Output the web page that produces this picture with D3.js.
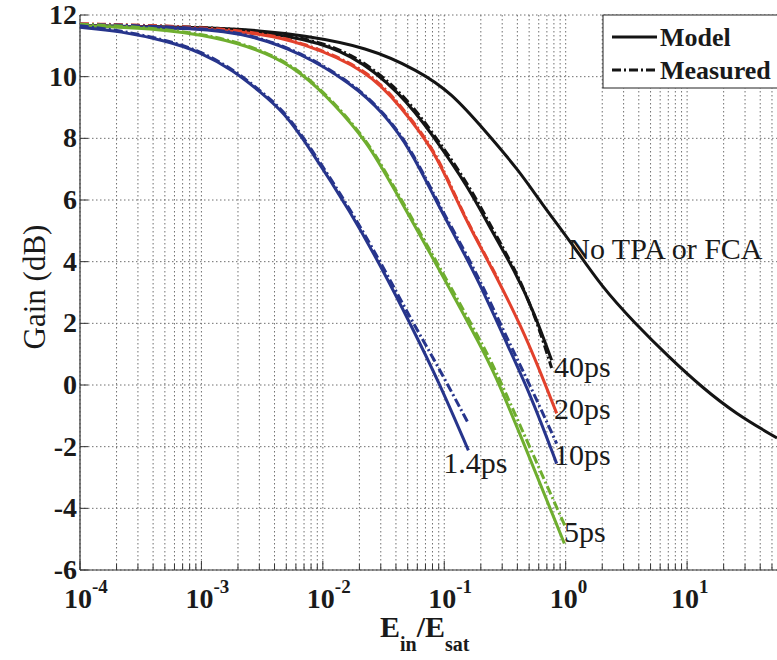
<!DOCTYPE html>
<html>
<head>
<meta charset="utf-8">
<script src="https://cdn.jsdelivr.net/npm/d3@7"></script>
<style>
  html, body { margin: 0; padding: 0; background: #fff; }
  svg { display: block; font-family: "Liberation Serif", "Times New Roman", serif; }
</style>
</head>
<body>
<svg id="chart" width="777" height="660"></svg>
<script>
/* ───────────────────────────── DATA ───────────────────────────── */
// each point: [Ein/Esat, gain dB]
const noTpaModel = [
  [1e-4, 11.65], [1e-3, 11.6], [3e-3, 11.5], [6.6e-3, 11.35], [0.0234, 10.96],
  [0.061, 10.2], [0.115, 9.47], [0.214, 8.27], [0.41, 6.97], [0.63, 5.9],
  [1.12, 4.6], [1.99, 3.17], [3.72, 2.0], [7.1, 0.9], [13.3, -0.08],
  [24.9, -0.92], [55, -1.72]
];
const ps40Model = [
  [1e-4, 11.65], [1e-3, 11.6], [3e-3, 11.45], [6.6e-3, 11.25], [0.017, 10.77],
  [0.044, 9.47], [0.0826, 8.04], [0.158, 6.42], [0.244, 5.02], [0.379, 3.72],
  [0.555, 2.32], [0.766, 0.8]
];
const ps40Meas = [
  [1e-4, 11.7], [1e-3, 11.62], [3e-3, 11.48], [6.6e-3, 11.28], [0.017, 10.82],
  [0.044, 9.55], [0.0826, 8.12], [0.158, 6.52], [0.244, 5.12], [0.379, 3.8],
  [0.555, 2.3], [0.766, 0.55]
];
const ps20Model = [
  [1e-4, 11.65], [1e-3, 11.58], [3e-3, 11.4], [6.6e-3, 11.12], [0.0235, 10.21],
  [0.0442, 9.01], [0.0826, 7.62], [0.126, 6.0], [0.167, 5.02], [0.279, 3.4],
  [0.4325, 1.87], [0.598, 0.57], [0.843, -0.92]
];
const ps20Meas = [
  [1e-4, 11.72], [1e-3, 11.62], [3e-3, 11.42], [6.6e-3, 11.14], [0.0235, 10.24],
  [0.0442, 9.05], [0.0826, 7.66], [0.126, 6.05], [0.167, 5.05], [0.279, 3.42]
];
const ps10Model = [
  [1e-4, 11.65], [1e-3, 11.58], [2.54e-3, 11.35], [6.6e-3, 10.77], [0.017, 9.79],
  [0.0319, 8.82], [0.0533, 7.6], [0.0826, 6.09], [0.121, 4.86], [0.191, 3.4],
  [0.338, 1.22], [0.524, -0.4], [0.843, -2.55]
];
const ps10Meas = [
  [1e-4, 11.7], [1e-3, 11.6], [2.54e-3, 11.37], [6.6e-3, 10.8], [0.017, 9.82],
  [0.0319, 8.85], [0.0533, 7.65], [0.0826, 6.15], [0.121, 4.95], [0.191, 3.52],
  [0.338, 1.42], [0.524, -0.12], [0.843, -1.9]
];
const ps5Model = [
  [1e-4, 11.65], [3.79e-4, 11.58], [1.355e-3, 11.29], [3.51e-3, 10.77], [6.58e-3, 10.15],
  [0.01233, 9.14], [0.02355, 7.84], [0.0353, 6.64], [0.1019, 3.4], [0.2023, 1.22],
  [0.259, 0.38], [0.409, -1.47], [0.975, -5.14]
];
const ps5Meas = [
  [1e-4, 11.7], [3.79e-4, 11.6], [1.355e-3, 11.32], [3.51e-3, 10.8], [6.58e-3, 10.18],
  [0.01233, 9.18], [0.02355, 7.88], [0.0353, 6.7], [0.1019, 3.5], [0.2023, 1.38],
  [0.259, 0.56], [0.409, -1.2], [1.0, -4.62]
];
const ps14Model = [
  [1e-4, 11.6], [2.14e-4, 11.48], [5.24e-4, 11.15], [9.82e-4, 10.8], [1.837e-3, 10.2],
  [3.07e-3, 9.5], [4.77e-3, 8.85], [7.51e-3, 7.78], [0.017, 5.6], [0.0319, 3.66],
  [0.0533, 1.93], [0.0891, 0.15], [0.158, -2.12]
];
const ps14Meas = [
  [1e-4, 11.65], [2.14e-4, 11.5], [5.24e-4, 11.18], [9.82e-4, 10.83], [1.837e-3, 10.23],
  [3.07e-3, 9.54], [4.77e-3, 8.9], [7.51e-3, 7.84], [0.017, 5.68], [0.0319, 3.78],
  [0.0533, 2.12], [0.0891, 0.6], [0.158, -1.25]
];

const series = [
  { data: noTpaModel, color: "#141414", dash: null },
  { data: ps40Meas,   color: "#141414", dash: "9,3,2,3" },
  { data: ps40Model,  color: "#141414", dash: null },
  { data: ps20Meas,   color: "#e2412c", dash: "9,3,2,3" },
  { data: ps20Model,  color: "#e2412c", dash: null },
  { data: ps10Meas,   color: "#27358c", dash: "9,3,2,3" },
  { data: ps10Model,  color: "#27358c", dash: null },
  { data: ps5Meas,    color: "#6fae2f", dash: "9,3,2,3" },
  { data: ps5Model,   color: "#6fae2f", dash: null },
  { data: ps14Meas,   color: "#27358c", dash: "9,3,2,3" },
  { data: ps14Model,  color: "#27358c", dash: null }
];

// curve end labels: [text, Ein/Esat, gain]
const curveLabels = [
  ["No TPA or FCA", 1.05, 4.1],
  ["40ps", 0.8, 0.25],
  ["20ps", 0.8, -1.1],
  ["10ps", 0.8, -2.6],
  ["1.4ps", 0.098, -2.85],
  ["5ps", 0.97, -5.1]
];

const yTicks = [-6, -4, -2, 0, 2, 4, 6, 8, 10, 12];
const xDecades = [-4, -3, -2, -1, 0, 1];
const legendItems = [["Model", null], ["Measured", "9,3,2,3"]];

/* ───────────────────────────── SCALES ───────────────────────────── */
const svg = d3.select("#chart");
const plot = { left: 80, right: 777, top: 15, bottom: 570 };

const x = d3.scaleLog().domain([1e-4, 55]).range([plot.left, plot.right]);
const y = d3.scaleLinear().domain([-6, 12]).range([plot.bottom, plot.top]);

// all log ticks (1..9 per decade)
const minorTicks = [];
xDecades.forEach(e => {
  for (let m = 1; m <= 9; m++) {
    const v = m * Math.pow(10, e);
    if (v <= 55) minorTicks.push(v);
  }
});

/* ───────────────────────────── GRID ───────────────────────────── */
const grid = svg.append("g");
grid.selectAll("line.vg").data(minorTicks).join("line")
  .attr("x1", d => x(d)).attr("x2", d => x(d))
  .attr("y1", plot.top).attr("y2", plot.bottom)
  .attr("stroke", "#707070").attr("stroke-width", 1)
  .attr("stroke-dasharray", "1.5,2.5");
grid.selectAll("line.hg").data(yTicks).join("line")
  .attr("x1", plot.left).attr("x2", plot.right)
  .attr("y1", d => y(d)).attr("y2", d => y(d))
  .attr("stroke", "#707070").attr("stroke-width", 1)
  .attr("stroke-dasharray", "1.5,2.5");

/* ───────────────────────────── AXES ───────────────────────────── */
const axes = svg.append("g");
axes.append("line").attr("x1", plot.left).attr("x2", plot.left)
  .attr("y1", plot.top).attr("y2", plot.bottom)
  .attr("stroke", "#333").attr("stroke-width", 1.2);
axes.append("line").attr("x1", plot.left).attr("x2", plot.right)
  .attr("y1", plot.bottom).attr("y2", plot.bottom)
  .attr("stroke", "#333").attr("stroke-width", 1.2);

// inward ticks
axes.selectAll("line.xt").data(minorTicks).join("line")
  .attr("x1", d => x(d)).attr("x2", d => x(d))
  .attr("y1", plot.bottom).attr("y2", (d, i) => plot.bottom - (i % 9 === 0 ? 9 : 6))
  .attr("stroke", "#333").attr("stroke-width", 1);
axes.selectAll("line.yt").data(yTicks).join("line")
  .attr("x1", plot.left).attr("x2", plot.left + 8)
  .attr("y1", d => y(d)).attr("y2", d => y(d))
  .attr("stroke", "#333").attr("stroke-width", 1);

// y tick labels
axes.selectAll("text.yl").data(yTicks).join("text")
  .attr("x", plot.left - 3).attr("y", d => y(d) + 9)
  .attr("text-anchor", "end")
  .attr("font-size", 28).attr("font-weight", "bold").attr("fill", "#1a1a1a")
  .text(d => d);

// x tick labels 10^n
const xl = axes.selectAll("text.xl").data(xDecades).join("text")
  .attr("x", d => x(Math.pow(10, d)) - 16).attr("y", 608)
  .attr("font-size", 28).attr("font-weight", "bold").attr("fill", "#1a1a1a");
xl.append("tspan").text("10");
xl.append("tspan").attr("dy", -15).attr("font-size", 19).text(d => d);

// axis titles
const xt = axes.append("text").attr("x", 380).attr("y", 637)
  .attr("font-size", 30).attr("font-weight", "bold").attr("fill", "#1a1a1a");
xt.append("tspan").text("E");
xt.append("tspan").attr("dy", 14).attr("font-size", 20).text("in");
xt.append("tspan").attr("dy", -14).text("/E");
xt.append("tspan").attr("dy", 14).attr("font-size", 20).text("sat");

axes.append("text")
  .attr("transform", "translate(45,287) rotate(-90)")
  .attr("text-anchor", "middle")
  .attr("font-size", 31).attr("fill", "#1a1a1a")
  .text("Gain (dB)");

/* ───────────────────────────── CURVES ───────────────────────────── */
const line = d3.line()
  .x(d => x(d[0]))
  .y(d => y(d[1]))
  .curve(d3.curveBasis);

svg.append("g").selectAll("path").data(series).join("path")
  .attr("d", d => line(d.data))
  .attr("fill", "none")
  .attr("stroke", d => d.color)
  .attr("stroke-width", 3)
  .attr("stroke-dasharray", d => d.dash);

/* ───────────────────────────── LABELS ───────────────────────────── */
svg.append("g").selectAll("text").data(curveLabels).join("text")
  .attr("x", d => x(d[1])).attr("y", d => y(d[2]))
  .attr("font-size", 30).attr("fill", "#1a1a1a")
  .text(d => d[0]);

/* ───────────────────────────── LEGEND ───────────────────────────── */
const lg = svg.append("g");
lg.append("rect").attr("x", 603).attr("y", 15).attr("width", 200).attr("height", 73)
  .attr("fill", "#fff").attr("stroke", "#222").attr("stroke-width", 1);
legendItems.forEach(([name, dash], i) => {
  const ly = 37 + i * 33;
  lg.append("line").attr("x1", 612).attr("x2", 657).attr("y1", ly).attr("y2", ly)
    .attr("stroke", "#141414").attr("stroke-width", 3).attr("stroke-dasharray", dash);
  lg.append("text").attr("x", 660).attr("y", ly + 9)
    .attr("font-size", 26).attr("font-weight", "bold").attr("fill", "#1a1a1a")
    .text(name);
});
</script>
</body>
</html>
